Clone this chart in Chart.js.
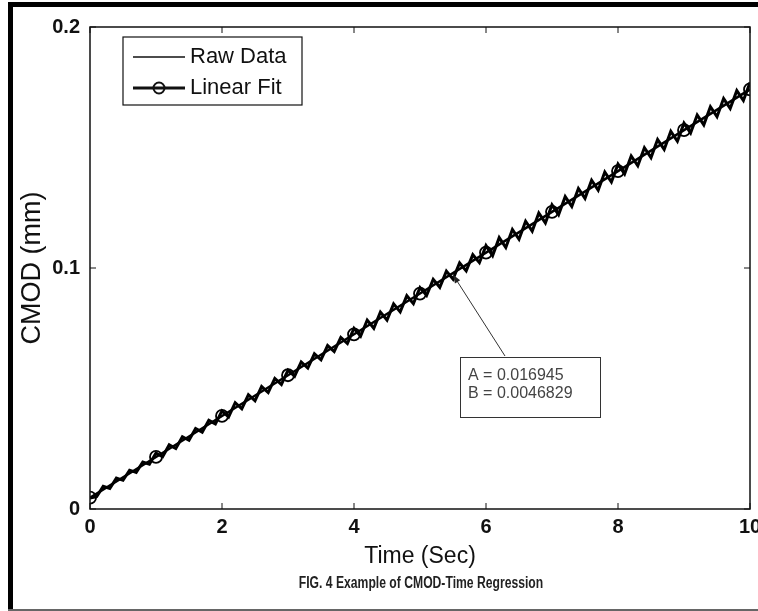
<!DOCTYPE html>
<html>
<head>
<meta charset="utf-8">
<script src="https://cdn.jsdelivr.net/npm/chart.js@4/dist/chart.umd.min.js"></script>
<style>
  html, body { margin: 0; padding: 0; background: #fff; }
  #wrap { width: 758px; height: 611px; }
</style>
</head>
<body>
<div id="wrap"><canvas id="myChart" width="758" height="611"></canvas></div>
<script>
// ---------------- data
var rawTime = [0, 0.1, 0.2, 0.3, 0.4, 0.5, 0.6, 0.7, 0.8, 0.9,
               1, 1.1, 1.2, 1.3, 1.4, 1.5, 1.6, 1.7, 1.8, 1.9,
               2, 2.1, 2.2, 2.3, 2.4, 2.5, 2.6, 2.7, 2.8, 2.9,
               3, 3.1, 3.2, 3.3, 3.4, 3.5, 3.6, 3.7, 3.8, 3.9,
               4, 4.1, 4.2, 4.3, 4.4, 4.5, 4.6, 4.7, 4.8, 4.9,
               5, 5.1, 5.2, 5.3, 5.4, 5.5, 5.6, 5.7, 5.8, 5.9,
               6, 6.1, 6.2, 6.3, 6.4, 6.5, 6.6, 6.7, 6.8, 6.9,
               7, 7.1, 7.2, 7.3, 7.4, 7.5, 7.6, 7.7, 7.8, 7.9,
               8, 8.1, 8.2, 8.3, 8.4, 8.5, 8.6, 8.7, 8.8, 8.9,
               9, 9.1, 9.2, 9.3, 9.4, 9.5, 9.6, 9.7, 9.8, 9.9, 10];
var rawCmod = [0.0045, 0.0051, 0.0094, 0.0085, 0.0128, 0.0119, 0.0161, 0.0152, 0.0195, 0.0186,
               0.0232, 0.0217, 0.0266, 0.0251, 0.0300, 0.0285, 0.0334, 0.0319, 0.0368, 0.0353,
               0.0407, 0.0382, 0.0441, 0.0416, 0.0474, 0.0449, 0.0508, 0.0483, 0.0542, 0.0517,
               0.0576, 0.0551, 0.0610, 0.0585, 0.0644, 0.0619, 0.0678, 0.0653, 0.0712, 0.0687,
               0.0750, 0.0717, 0.0784, 0.0750, 0.0817, 0.0784, 0.0851, 0.0818, 0.0885, 0.0852,
               0.0919, 0.0886, 0.0953, 0.0920, 0.0987, 0.0954, 0.1021, 0.0988, 0.1055, 0.1022,
               0.1093, 0.1051, 0.1126, 0.1085, 0.1160, 0.1119, 0.1194, 0.1153, 0.1228, 0.1187,
               0.1262, 0.1221, 0.1296, 0.1255, 0.1330, 0.1289, 0.1364, 0.1323, 0.1398, 0.1357,
               0.1431, 0.1390, 0.1465, 0.1424, 0.1499, 0.1458, 0.1533, 0.1492, 0.1567, 0.1526,
               0.1601, 0.1560, 0.1635, 0.1594, 0.1669, 0.1628, 0.1703, 0.1662, 0.1736, 0.1695, 0.1770];
var fitTime = [0, 1, 2, 3, 4, 5, 6, 7, 8, 9, 10];
var fitCmod = [0.0047, 0.0216, 0.0386, 0.0555, 0.0725, 0.0894, 0.1064, 0.1233, 0.1402, 0.1572, 0.1741];
var xTicks = [0, 2, 4, 6, 8, 10];
var yTicks = [0, 0.1, 0.2];
var legendLabels = ["Raw Data", "Linear Fit"];
var noteLines = ["A = 0.016945", "B = 0.0046829"];
var notePoint = [5.5, 0.0972];   // where the arrow points
var caption = "FIG. 4 Example of CMOD-Time Regression";

function toPoints(xs, ys){
    var pts = [];
    for(var i=0; i<xs.length; i++){
        pts.push({x: xs[i], y: ys[i]});
    }
    return pts;
}

// ---------------- frame, box, inward ticks, legend, note, caption
var decor = {
    id: 'decor',
    beforeDraw: function(chart){
        var c = chart.ctx;
        c.save();
        c.fillStyle = '#fff';
        c.fillRect(0, 0, chart.width, chart.height);
        c.restore();
    },
    afterDatasetsDraw: function(chart){
        var c = chart.ctx, a = chart.chartArea;
        var xs = chart.scales.x, ys = chart.scales.y;
        c.save();
        // axes box
        c.strokeStyle = '#111';
        c.lineWidth = 1.5;
        c.strokeRect(a.left, a.top, a.right - a.left, a.bottom - a.top);
        // inward ticks on all four sides
        c.lineWidth = 1;
        c.beginPath();
        xTicks.forEach(function(v){
            var px = xs.getPixelForValue(v);
            c.moveTo(px, a.bottom); c.lineTo(px, a.bottom - 6);
            c.moveTo(px, a.top); c.lineTo(px, a.top + 6);
        });
        yTicks.forEach(function(v){
            var py = ys.getPixelForValue(v);
            c.moveTo(a.left, py); c.lineTo(a.left + 6, py);
            c.moveTo(a.right, py); c.lineTo(a.right - 6, py);
        });
        c.stroke();

        // legend
        var lx = 123, ly = 37, lw = 179, lh = 68;
        c.fillStyle = '#fff';
        c.fillRect(lx, ly, lw, lh);
        c.strokeStyle = '#111';
        c.lineWidth = 1.2;
        c.strokeRect(lx, ly, lw, lh);
        c.beginPath();
        c.lineWidth = 1.5;
        c.moveTo(lx + 10, ly + 20); c.lineTo(lx + 62, ly + 20);
        c.stroke();
        c.beginPath();
        c.lineWidth = 3;
        c.moveTo(lx + 10, ly + 51); c.lineTo(lx + 62, ly + 51);
        c.stroke();
        c.beginPath();
        c.lineWidth = 2;
        c.arc(lx + 36, ly + 51, 5.5, 0, Math.PI * 2);
        c.stroke();
        c.fillStyle = '#111';
        c.font = '22px "Liberation Sans", Arial, sans-serif';
        c.textBaseline = 'middle';
        c.textAlign = 'left';
        c.fillText(legendLabels[0], lx + 67, ly + 20);
        c.fillText(legendLabels[1], lx + 67, ly + 51);

        // text arrow and note box
        var tx = xs.getPixelForValue(notePoint[0]), ty = ys.getPixelForValue(notePoint[1]);
        var sx = 505, sy = 356;
        c.strokeStyle = '#333';
        c.lineWidth = 1;
        c.beginPath();
        c.moveTo(sx, sy); c.lineTo(tx, ty);
        c.stroke();
        var ang = Math.atan2(ty - sy, tx - sx);
        c.beginPath();
        c.moveTo(tx, ty);
        c.lineTo(tx - 9 * Math.cos(ang - 0.35), ty - 9 * Math.sin(ang - 0.35));
        c.lineTo(tx - 9 * Math.cos(ang + 0.35), ty - 9 * Math.sin(ang + 0.35));
        c.closePath();
        c.fillStyle = '#222';
        c.fill();
        c.fillStyle = '#fff';
        c.fillRect(460, 357, 140, 60);
        c.strokeStyle = '#333';
        c.strokeRect(460.5, 357.5, 140, 60);
        c.fillStyle = '#444';
        c.font = '16px "Liberation Sans", Arial, sans-serif';
        c.fillText(noteLines[0], 468, 376);
        c.fillText(noteLines[1], 468, 394);
        c.restore();
    },
    afterDraw: function(chart){
        var c = chart.ctx;
        c.save();
        // page frame
        c.fillStyle = '#000';
        c.fillRect(8, 2, 5, chart.height - 2);
        c.fillRect(8, 2, chart.width - 8, 5);
        c.fillStyle = '#666';
        c.fillRect(8, chart.height - 2, chart.width - 8, 2);
        // caption, squeezed like a narrow bold face
        c.fillStyle = '#222';
        c.font = 'bold 16px "Liberation Sans", Arial, sans-serif';
        c.textAlign = 'center';
        c.textBaseline = 'middle';
        c.translate(421, 584);
        c.scale(0.76, 1);
        c.fillText(caption, 0, 0);
        c.restore();
    }
};

var tickFont = {family: '"Liberation Sans", Arial, sans-serif', size: 20, weight: 'bold'};
var ctx = document.getElementById("myChart");
var myChart = new Chart(ctx, {
    type: 'scatter',
    data: {
        datasets: [
            {label: legendLabels[0], data: toPoints(rawTime, rawCmod), showLine: true, order: 1,
             borderColor: '#000', borderWidth: 3, pointRadius: 0, tension: 0},
            {label: legendLabels[1], data: toPoints(fitTime, fitCmod), showLine: true, order: 0,
             borderColor: '#000', borderWidth: 2.5, pointRadius: 6, pointBorderWidth: 1.8,
             pointBorderColor: '#000', pointBackgroundColor: 'rgba(0,0,0,0)', tension: 0}
        ]
    },
    options: {
        responsive: false,
        animation: false,
        layout: {padding: {left: 14, top: 27, right: 8, bottom: 41}},
        plugins: {legend: {display: false}, tooltip: {enabled: false}},
        scales: {
            x: {
                type: 'linear', min: 0, max: 10,
                grid: {display: false, drawTicks: false},
                border: {display: false},
                afterBuildTicks: function(s){ s.ticks = xTicks.map(function(v){ return {value: v}; }); },
                afterFit: function(s){ s.height = 61; s.paddingLeft = 0; s.paddingRight = 0; },
                ticks: {color: '#111', font: tickFont, padding: 6, maxRotation: 0, autoSkip: false},
                title: {display: true, text: 'Time (Sec)', color: '#111',
                        font: {family: '"Liberation Sans", Arial, sans-serif', size: 23},
                        padding: {top: 0, bottom: 0}}
            },
            y: {
                type: 'linear', min: 0, max: 0.2,
                grid: {display: false, drawTicks: false},
                border: {display: false},
                afterBuildTicks: function(s){ s.ticks = yTicks.map(function(v){ return {value: v}; }); },
                afterFit: function(s){ s.width = 76; s.paddingTop = 0; s.paddingBottom = 0; },
                ticks: {color: '#111', font: tickFont, padding: 10, autoSkip: false},
                title: {display: true, text: 'CMOD (mm)', color: '#111',
                        font: {family: '"Liberation Sans", Arial, sans-serif', size: 27},
                        padding: {top: 2, bottom: 0}}
            }
        }
    },
    plugins: [decor]
});
</script>
</body>
</html>
